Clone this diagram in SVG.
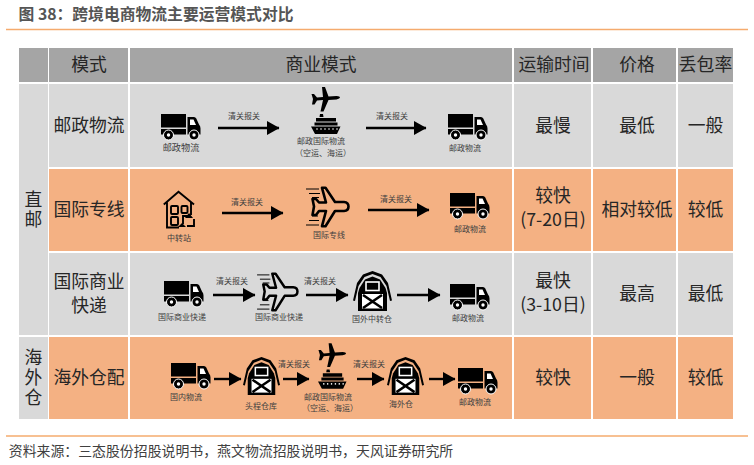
<svg xmlns="http://www.w3.org/2000/svg" width="754" height="465" viewBox="0 0 754 465">
<style>
text{font-family:"Noto Sans CJK SC","Liberation Sans",sans-serif;fill:#262626;text-anchor:middle}
.t{font-size:17.800px}
.v{writing-mode:vertical-rl;letter-spacing:2px}
.s{font-size:8px;fill:#404040}
.h{fill:#a5a5a5}.g{fill:#d9d9d9}.o{fill:#f4b183}
.a{stroke:#000;stroke-width:2.400;fill:none;marker-end:url(#ah)}
.r{stroke:#f5ab6e;stroke-width:1.500}
</style>
<defs>
<marker id="ah" markerUnits="userSpaceOnUse" markerWidth="13" markerHeight="14" refX="12" refY="7" orient="auto"><path d="M0 0L12.500 7L0 14z" fill="#000"/></marker>
<symbol id="truck" viewBox="0 0 39 26" overflow="visible">
<rect x="0" y="0" width="25" height="13.500"/><rect x="0" y="15" width="25" height="5.500"/>
<path d="M26.500 3h6.500q1.500 0 2.300 1.500l2.700 6q1.500 1.500 1.500 4v6h-13z"/><path d="M29 5.500h3.500l2.500 5.500h-6z" fill="#fff"/>
<g fill="#000" stroke="#fff" stroke-width="1"><circle cx="7.500" cy="21" r="5"/><circle cx="33" cy="21" r="5"/></g>
<circle cx="7.500" cy="21" r="1.700" fill="#fff"/><circle cx="33" cy="21" r="1.700" fill="#fff"/>
</symbol>
<symbol id="planeship" viewBox="0 0 30 47" overflow="visible">
<path d="M11 0l3 0 3.500 9.500 8-.5q3.500.3 3.500 1.500t-3.500 2l-8 .5-5 11.500h-3l2.500-11.500-6 .5-2.500 4h-2.500l1-5.500-1.500-5h2.500l3 3.500 6-.5z"/>
<path d="M9 27h3l.5 3h-4zM5 31h20v3.500H5zM3.500 35.500h23v3H3.500zM0 39.500h29.500l-3.500 7.500H4z"/>
<g fill="#fff"><circle cx="6" cy="42" r=".8"/><circle cx="10" cy="42" r=".8"/><circle cx="14" cy="42" r=".8"/><circle cx="18" cy="42" r=".8"/><circle cx="22" cy="42" r=".8"/><circle cx="26" cy="42" r=".8"/></g>
</symbol>
<symbol id="jet" viewBox="0 0 43 40" overflow="visible">
<path d="M16 .8h3.500L29 15h9q4.500.3 4.500 4.500T38 24h-9L19.500 39.200H16L20 24h-7l-3 4H6.500l1.500-8.500L6.500 12H10l3 3.500h7z" fill="none" stroke="#000" stroke-width="2.600" stroke-linejoin="round"/>
<path d="M0 2h13M3 6.500h11M6 10.500h7M6 29h6M3 33.500h10M0 38h13" stroke="#000" stroke-width="1" fill="none"/>
</symbol>
<symbol id="barn" viewBox="0 0 39 40" overflow="visible">
<path d="M19.500 0L29 3.500 35 12l4 17.500-2 .5-3.500-15L27.500 6 19.500 3 11.500 6 5.500 15 2 30 0 29.500 4 12 10 3.500z"/>
<path d="M19.500 5.500L27 8.500l5.500 8.500 1.500 5V40H5V22l1.500-5L12 8.500z"/>
<rect x="13" y="11" width="13" height="8.500" fill="none" stroke="#fff" stroke-width="1.600"/>
<rect x="9" y="23" width="21" height="14.500" fill="#fff"/>
<path d="M10 24l19 13M29 24L10 37" stroke="#000" stroke-width="2.600" fill="none"/>
</symbol>
<symbol id="house" viewBox="0 0 32 37" overflow="visible">
<path d="M.8 13.500L15.500.8 31 13.500M4 11.500V36.500H16M28 11.500V24" fill="none" stroke="#000" stroke-width="1.900"/>
<g fill="none" stroke="#000" stroke-width="1.900"><rect x="8" y="15" width="7" height="8" rx="1"/><rect x="8" y="26" width="7" height="8" rx="1"/><rect x="18.500" y="15" width="6" height="7" rx="1"/><path d="M20 33v-8h6M24 35h7v-7"/></g>
<path d="M26 22l4 5h-8zM19 32l4 4h-8z" fill="#000"/>
</symbol>
</defs>
<rect width="754" height="465" fill="#fff"/>
<text x="156" y="19.500" style="font-size:15.800px;font-weight:700;fill:#555">图 38：跨境电商物流主要运营模式对比</text>
<line class="r" x1="6" y1="29.500" x2="748" y2="29.500"/>

<g id="table">
<rect class="h" x="19" y="48" width="29" height="34"/><rect class="h" x="49" y="48" width="79" height="34"/><rect class="h" x="130" y="48" width="382" height="34"/><rect class="h" x="514" y="48" width="77" height="34"/><rect class="h" x="593" y="48" width="83" height="34"/><rect class="h" x="678" y="48" width="55" height="34"/>
<rect class="g" x="19" y="84" width="29" height="251"/><rect class="g" x="19" y="337" width="29" height="82"/>
<rect class="g" x="49" y="84" width="79" height="83"/><rect class="g" x="130" y="84" width="382" height="83"/><rect class="g" x="514" y="84" width="77" height="83"/><rect class="g" x="593" y="84" width="83" height="83"/><rect class="g" x="678" y="84" width="55" height="83"/>
<rect class="o" x="49" y="169" width="79" height="82"/><rect class="o" x="130" y="169" width="382" height="82"/><rect class="o" x="514" y="169" width="77" height="82"/><rect class="o" x="593" y="169" width="83" height="82"/><rect class="o" x="678" y="169" width="55" height="82"/>
<rect class="g" x="49" y="253" width="79" height="82"/><rect class="g" x="130" y="253" width="382" height="82"/><rect class="g" x="514" y="253" width="77" height="82"/><rect class="g" x="593" y="253" width="83" height="82"/><rect class="g" x="678" y="253" width="55" height="82"/>
<rect class="o" x="49" y="337" width="79" height="82"/><rect class="o" x="130" y="337" width="382" height="82"/><rect class="o" x="514" y="337" width="77" height="82"/><rect class="o" x="593" y="337" width="83" height="82"/><rect class="o" x="678" y="337" width="55" height="82"/>
<text class="t" x="89" y="71">模式</text><text class="t" x="321" y="71">商业模式</text><text class="t" x="554" y="71">运输时间</text><text class="t" x="637" y="71">价格</text><text class="t" x="705.500" y="71">丢包率</text>
<text class="t v" x="33.500" y="210">直邮</text>
<text class="t v" x="33.500" y="378">海外仓</text>
<text class="t" x="89" y="132">邮政物流</text><text class="t" x="89" y="216">国际专线</text><text class="t" x="89" y="287.500">国际商业</text><text class="t" x="89" y="311.500">快递</text><text class="t" x="89" y="384">海外仓配</text>
<text class="t" x="553" y="132">最慢</text><text class="t" x="637" y="132">最低</text><text class="t" x="705.500" y="132">一般</text>
<text class="t" x="553" y="202">较快</text><text class="t" x="553" y="226">(7-20日)</text><text class="t" x="637" y="216">相对较低</text><text class="t" x="705.500" y="216">较低</text>
<text class="t" x="553" y="287">最快</text><text class="t" x="553" y="311">(3-10日)</text><text class="t" x="637" y="300">最高</text><text class="t" x="705.500" y="300">最低</text>
<text class="t" x="553" y="384">较快</text><text class="t" x="637" y="384">一般</text><text class="t" x="705.500" y="384">较低</text>
</g>

<g id="connectors">
<path class="a" d="M218 128H279"/><path class="a" d="M366 128H426"/>
<path class="a" d="M222 213H283"/><path class="a" d="M368 210H429"/>
<path class="a" d="M213 295H255"/><path class="a" d="M306 295H348"/><path class="a" d="M397 295H440"/>
<path class="a" d="M214 379H241"/><path class="a" d="M283 379H309"/><path class="a" d="M357 379H384"/><path class="a" d="M429 379H455"/>
<text class="s" x="244" y="119">清关报关</text><text class="s" x="392" y="119">清关报关</text>
<text class="s" x="247" y="205">清关报关</text><text class="s" x="396" y="202">清关报关</text>
<text class="s" x="232" y="284">清关报关</text><text class="s" x="320" y="284">清关报关</text>
<text class="s" x="294" y="367">清关报关</text><text class="s" x="369" y="367">清关报关</text>
</g>

<g id="r1-truck1"><use href="#truck" x="161" y="114" width="39" height="26"/><text class="s" x="181" y="151" style="font-size:9.200px">邮政物流</text></g>
<g id="r1-intl"><use href="#planeship" x="311" y="87" width="30" height="47"/><text class="s" x="321" y="144">邮政国际物流</text><text class="s" x="323" y="156">（空运、海运）</text></g>
<g id="r1-truck2"><use href="#truck" x="448" y="114" width="39" height="26"/><text class="s" x="465" y="151">邮政物流</text></g>

<g id="r2-hub"><use href="#house" x="163" y="191" width="32" height="37"/><text class="s" x="179" y="241">中转站</text></g>
<g id="r2-line"><use href="#jet" x="306" y="187" width="43" height="40"/><text class="s" x="329" y="238">国际专线</text></g>
<g id="r2-truck"><use href="#truck" x="450" y="193" width="39" height="26"/><text class="s" x="470" y="232">邮政物流</text></g>

<g id="r3-truck1"><use href="#truck" x="164" y="281" width="39" height="26"/><text class="s" x="182" y="320">国际商业快递</text></g>
<g id="r3-jet"><use href="#jet" x="257" y="273" width="41" height="38"/><text class="s" x="279" y="320">国际商业快递</text></g>
<g id="r3-barn"><use href="#barn" x="353" y="271" width="39" height="40"/><text class="s" x="372" y="322">国外中转仓</text></g>
<g id="r3-truck2"><use href="#truck" x="450" y="284" width="39" height="26"/><text class="s" x="468" y="321">邮政物流</text></g>

<g id="r4-truck1"><use href="#truck" x="171" y="363" width="39" height="26"/><text class="s" x="186" y="400">国内物流</text></g>
<g id="r4-barn1"><use href="#barn" x="243" y="357" width="37" height="38"/><text class="s" x="261" y="409">头程仓库</text></g>
<g id="r4-intl"><use href="#planeship" x="318" y="343" width="29" height="46"/><text class="s" x="328" y="400">邮政国际物流</text><text class="s" x="330" y="411">（空运、海运）</text></g>
<g id="r4-barn2"><use href="#barn" x="387" y="357" width="37" height="38"/><text class="s" x="401" y="407">海外仓</text></g>
<g id="r4-truck2"><use href="#truck" x="458" y="368" width="39" height="26"/><text class="s" x="475" y="405">邮政物流</text></g>

<line class="r" x1="6" y1="436" x2="748" y2="436"/>
<text x="231" y="456" style="font-size:13.900px;fill:#404040">资料来源：三态股份招股说明书，燕文物流招股说明书，天风证券研究所</text>
</svg>
